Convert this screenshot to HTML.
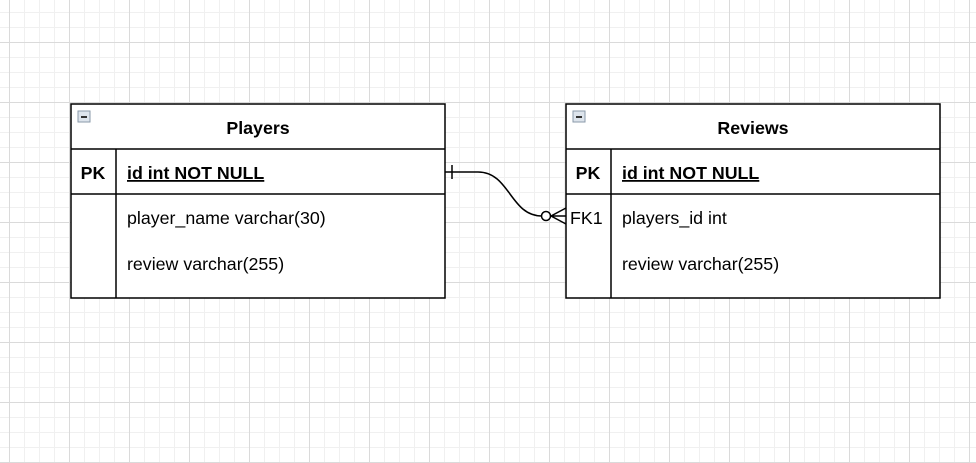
<!DOCTYPE html>
<html><head><style>
html,body{margin:0;padding:0;background:#fff;}
svg{display:block;}
text{font-family:"Liberation Sans",Arial,sans-serif;font-size:17.8px;fill:#000;}
</style></head><body>
<svg width="976" height="463" xmlns="http://www.w3.org/2000/svg">
<defs>
<pattern id="mn" x="9" y="12" width="15" height="15" patternUnits="userSpaceOnUse">
<path d="M0 0.5H15M0.5 0V15" stroke="#f0f0f0" stroke-width="1" fill="none"/>
</pattern>
<pattern id="mj" x="9" y="42" width="60" height="60" patternUnits="userSpaceOnUse">
<path d="M0 0.5H60M0.5 0V60" stroke="#dadada" stroke-width="1" fill="none"/>
</pattern>
</defs>
<rect width="976" height="463" fill="url(#mn)"/>
<rect width="976" height="463" fill="url(#mj)"/>

<g stroke="#000" stroke-width="1.5" fill="none">
<rect x="71" y="104" width="374" height="194" fill="#fff"/>
<line x1="71" y1="149" x2="445" y2="149"/>
<line x1="71" y1="194" x2="445" y2="194"/>
<line x1="116" y1="149" x2="116" y2="298"/>
<rect x="566" y="104" width="374" height="194" fill="#fff"/>
<line x1="566" y1="149" x2="940" y2="149"/>
<line x1="566" y1="194" x2="940" y2="194"/>
<line x1="611" y1="149" x2="611" y2="298"/>
<path d="M445 172H478C510 172 510 216 542 216" />
<line x1="452" y1="165" x2="452" y2="179"/>
<circle cx="546" cy="216" r="4.5" fill="#fff"/>
<path d="M566 208L551 216L566 224M551 216H566"/>
</g>
<g>
<rect x="78" y="111" width="12" height="11" fill="#dde4ec" stroke="#8a9aaa"/>
<rect x="81" y="116" width="6" height="2" fill="#333"/>
<rect x="573" y="111" width="12" height="11" fill="#dde4ec" stroke="#8a9aaa"/>
<rect x="576" y="116" width="6" height="2" fill="#333"/>
</g>
<text x="258" y="134" text-anchor="middle" font-weight="bold">Players</text>
<text x="753" y="134" text-anchor="middle" font-weight="bold">Reviews</text>
<text x="93" y="179" text-anchor="middle" font-weight="bold">PK</text>
<text x="588" y="179" text-anchor="middle" font-weight="bold">PK</text>
<text x="127" y="179" font-weight="bold" text-decoration="underline">id int NOT NULL</text>
<text x="622" y="179" font-weight="bold" text-decoration="underline">id int NOT NULL</text>
<text x="127" y="224">player_name varchar(30)</text>
<text x="127" y="270">review varchar(255)</text>
<text x="570" y="224">FK1</text>
<text x="622" y="224">players_id int</text>
<text x="622" y="270">review varchar(255)</text>
</svg>
</body></html>
